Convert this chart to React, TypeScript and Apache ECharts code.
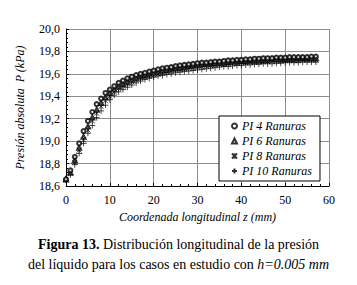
import React, { useEffect, useRef } from "react";
import * as echarts from "echarts";

const zValues = [0,1,2,3,4,5,6,7,8,9,10,11,12,13,14,15,16,17,18,19,20,21,22,23,24,25,26,27,28,29,30,31,32,33,34,35,36,37,38,39,40,41,42,43,44,45,46,47,48,49,50,51,52,53,54,55,56,57];

const pi4 = [18.66,18.74,18.86,18.98,19.09,19.18,19.26,19.33,19.38,19.43,19.46,19.49,19.52,19.54,19.56,19.575,19.59,19.60,19.61,19.62,19.63,19.64,19.65,19.655,19.66,19.67,19.675,19.68,19.685,19.69,19.695,19.70,19.70,19.705,19.71,19.71,19.715,19.72,19.72,19.725,19.725,19.73,19.73,19.735,19.735,19.74,19.74,19.74,19.745,19.745,19.745,19.75,19.75,19.75,19.75,19.75,19.755,19.755];
const pi6 = [18.66,18.72,18.83,18.94,19.04,19.13,19.21,19.28,19.34,19.39,19.43,19.46,19.49,19.51,19.53,19.55,19.565,19.58,19.59,19.60,19.61,19.62,19.63,19.635,19.645,19.65,19.655,19.66,19.67,19.675,19.68,19.685,19.69,19.69,19.695,19.70,19.70,19.705,19.71,19.71,19.715,19.715,19.72,19.72,19.72,19.725,19.725,19.73,19.73,19.73,19.735,19.735,19.735,19.74,19.74,19.74,19.74,19.74];
const pi8 = [18.65,18.71,18.81,18.92,19.01,19.10,19.18,19.25,19.31,19.36,19.40,19.44,19.47,19.49,19.51,19.53,19.545,19.56,19.57,19.58,19.59,19.60,19.61,19.62,19.625,19.635,19.64,19.645,19.65,19.655,19.66,19.665,19.67,19.675,19.68,19.685,19.685,19.69,19.695,19.695,19.70,19.70,19.705,19.705,19.71,19.71,19.71,19.715,19.715,19.715,19.72,19.72,19.72,19.72,19.725,19.725,19.725,19.725];
const pi10 = [18.65,18.70,18.79,18.89,18.98,19.07,19.14,19.21,19.27,19.32,19.37,19.41,19.44,19.46,19.48,19.50,19.52,19.535,19.55,19.56,19.57,19.58,19.585,19.595,19.60,19.61,19.615,19.62,19.625,19.63,19.635,19.64,19.645,19.65,19.655,19.66,19.665,19.665,19.67,19.675,19.675,19.68,19.68,19.685,19.685,19.69,19.69,19.69,19.695,19.695,19.70,19.70,19.70,19.70,19.705,19.705,19.705,19.705];

const seriesNames = ["PI 4 Ranuras", "PI 6 Ranuras", "PI 8 Ranuras", "PI 10 Ranuras"];
const xTicks = { min: 0, max: 60, interval: 10 };
const yTicks = { min: 18.6, max: 20.0, interval: 0.2 };

const FONT = "Times New Roman, Liberation Serif, DejaVu Serif, serif";

export default function App() {
  const ref = useRef<HTMLDivElement>(null);
  useEffect(() => {
    if (!ref.current) return;
    const chart = echarts.init(ref.current, null, { renderer: "svg" });
    const toPairs = (arr: number[]) => arr.map((v, i) => [zValues[i], v]);
    const symbols = [
      "emptyCircle",
      "emptyTriangle",
      "path://M0,0L10,10M10,0L0,10M5,0L5,10",
      "path://M5,0L5,10M0,5L10,5",
    ];
    const sizes = [4, 4, 5, 6];
    const datasets = [pi4, pi6, pi8, pi10];
    const base = { fontFamily: FONT, color: "#000" };
    chart.setOption({
      animation: false,
      backgroundColor: "#fff",
      textStyle: { fontFamily: FONT },
      grid: { left: 66, right: 28, top: 29, bottom: 99, containLabel: false },
      legend: {
        orient: "vertical",
        left: 219,
        top: 116,
        width: 104,
        backgroundColor: "#fff",
        borderColor: "#000",
        borderWidth: 1,
        borderRadius: 0,
        padding: [4, 8, 4, 12],
        itemGap: 3,
        itemWidth: 5,
        itemHeight: 5,
        textStyle: { ...base, fontStyle: "italic", fontSize: 12 },
        data: seriesNames.map((n, i) => ({ name: n, icon: symbols[i] })),
      },
      xAxis: {
        type: "value",
        min: xTicks.min,
        max: xTicks.max,
        interval: xTicks.interval,
        name: "Coordenada longitudinal z (mm)",
        nameLocation: "middle",
        nameGap: 20,
        nameTextStyle: { ...base, fontStyle: "italic", fontSize: 12 },
        axisLine: { lineStyle: { color: "#000", width: 1 } },
        axisTick: { show: true, inside: true, length: 3, lineStyle: { color: "#000" } },
        minorTick: { show: true, splitNumber: 5, length: 2, lineStyle: { color: "#000" } },
        axisLabel: { ...base, fontSize: 12, margin: 8 },
        splitLine: { show: true, lineStyle: { color: "#8c8c8c", width: 1 } },
      },
      yAxis: {
        type: "value",
        min: yTicks.min,
        max: yTicks.max,
        interval: yTicks.interval,
        name: "Presión absoluta  P (kPa)",
        nameLocation: "middle",
        nameGap: 40,
        nameTextStyle: { ...base, fontStyle: "italic", fontSize: 12 },
        axisLine: { show: true, lineStyle: { color: "#000", width: 1 } },
        axisTick: { show: true, inside: true, length: 3, lineStyle: { color: "#000" } },
        minorTick: { show: true, splitNumber: 5, length: 2, lineStyle: { color: "#000" } },
        axisLabel: {
          ...base,
          fontSize: 12,
          margin: 6,
          formatter: (v: number) => v.toFixed(1).replace(".", ","),
        },
        splitLine: { show: true, lineStyle: { color: "#8c8c8c", width: 1 } },
      },
      series: datasets.map((d, i) => ({
        name: seriesNames[i],
        type: "scatter",
        data: toPairs(d),
        symbol: symbols[i],
        symbolSize: sizes[i],
        itemStyle: {
          color: i < 2 ? "#000" : "rgba(0,0,0,0)",
          borderColor: "#000",
          borderWidth: 0.9,
        },
        z: 10 - i,
      })),
      graphic: [
        {
          type: "text",
          x: 178.5,
          y: 244,
          style: {
            text: "{b|Figura 13.}{n| Distribución longitudinal de la presión}",
            rich: {
              b: { fontFamily: FONT, fontSize: 14, fontWeight: "bold", fill: "#000" },
              n: { fontFamily: FONT, fontSize: 14, fill: "#000" },
            },
            font: "14px " + FONT,
            fill: "#000",
            textAlign: "center",
            textVerticalAlign: "middle",
          },
        },
        {
          type: "text",
          x: 178.5,
          y: 264,
          style: {
            text: "{n|del líquido para los casos en estudio con }{i|h=0.005 mm}",
            rich: {
              n: { fontFamily: FONT, fontSize: 14, fill: "#000" },
              i: { fontFamily: FONT, fontSize: 14, fontStyle: "italic", fill: "#000" },
            },
            font: "14px " + FONT,
            fill: "#000",
            textAlign: "center",
            textVerticalAlign: "middle",
          },
        },
      ],
    });
    return () => chart.dispose();
  }, []);
  return <div ref={ref} style={{ width: 357, height: 285, position: "absolute", left: 0, top: 0 }} />;
}
